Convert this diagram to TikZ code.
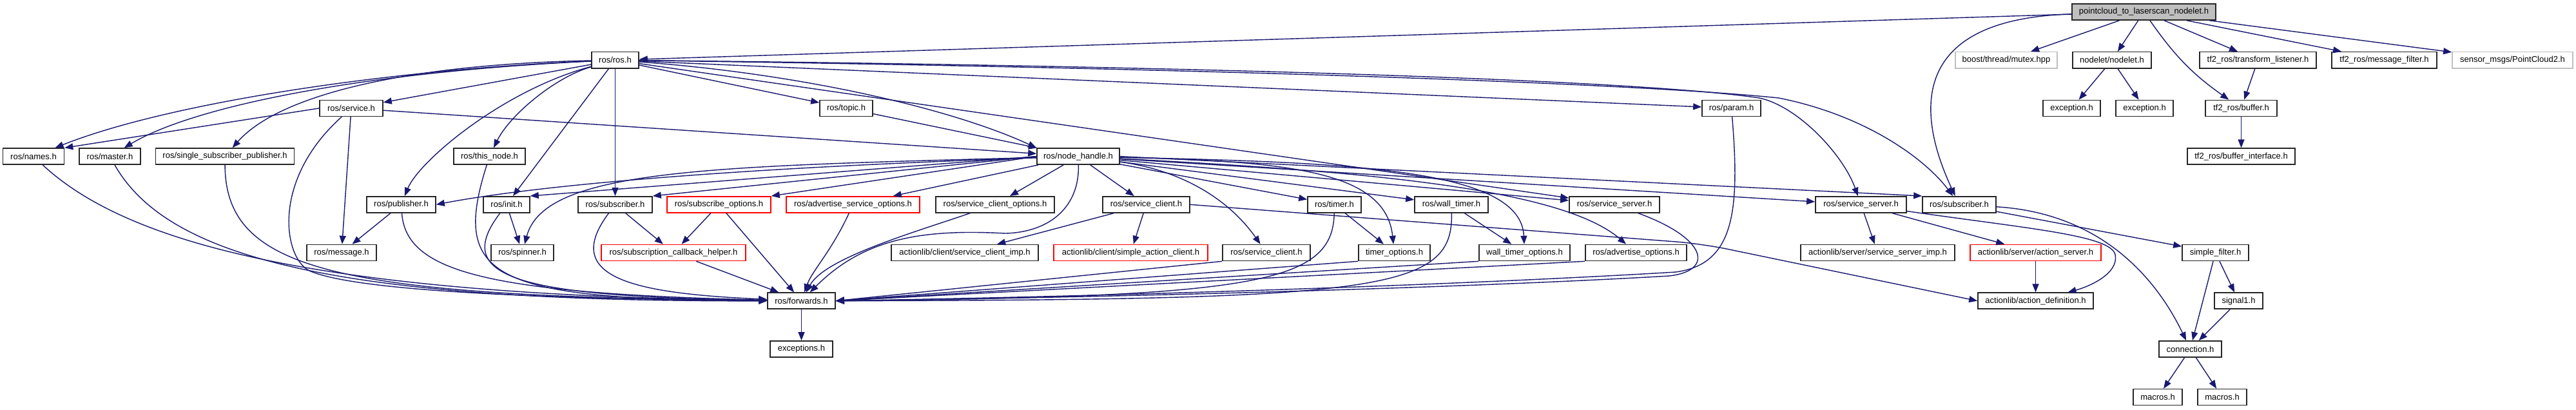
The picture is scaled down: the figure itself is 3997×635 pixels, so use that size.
\documentclass[tikz,border=0pt]{standalone}
\usepackage{fontspec}
\setmainfont{Liberation Sans}
\usetikzlibrary{arrows.meta}
\definecolor{edgeblue}{RGB}{25,25,112}
\definecolor{boxgray}{RGB}{191,191,191}
\begin{document}
\begin{tikzpicture}[x=0.01cm, y=-0.01cm,
  hdr/.style={draw=black!85, fill=white, line width=0.45pt, inner sep=0pt, minimum height=0.25cm, font=\fontsize{3.7}{4.4}\selectfont},
  redhdr/.style={hdr, draw=red},
  syshdr/.style={hdr, draw=boxgray},
  roothdr/.style={hdr, fill=boxgray},
  dep/.style={draw=edgeblue, line width=0.4pt, -{Triangle[length=0.13cm, width=0.1cm]}}]
\path[use as bounding box, fill=white] (0,0) rectangle (3997,635);
\node[roothdr, minimum width=2.23cm] (pc) at (3326.5,18.5) {pointcloud\_to\_laserscan\_nodelet.h};
\node[hdr, minimum width=0.73cm] (rosros) at (954.5,93.2) {ros/ros.h};
\node[syshdr, minimum width=1.58cm] (boost) at (3113,93.2) {boost/thread/mutex.hpp};
\node[hdr, minimum width=1.22cm] (nodelet) at (3277,93.2) {nodelet/nodelet.h};
\node[hdr, minimum width=1.81cm] (tflisten) at (3503.5,93.2) {tf2\_ros/transform\_listener.h};
\node[hdr, minimum width=1.63cm] (tfmsgf) at (3699.5,93.2) {tf2\_ros/message\_filter.h};
\node[syshdr, minimum width=1.87cm] (pctwo) at (3898.5,93.2) {sensor\_msgs/PointCloud2.h};
\node[hdr, minimum width=0.98cm] (service) at (545,167.9) {ros/service.h};
\node[hdr, minimum width=0.82cm] (topic) at (1313,167.9) {ros/topic.h};
\node[hdr, minimum width=0.91cm] (param) at (2686.5,167.9) {ros/param.h};
\node[hdr, minimum width=0.89cm] (exca) at (3214.5,167.9) {exception.h};
\node[hdr, minimum width=0.89cm] (excb) at (3327.5,167.9) {exception.h};
\node[hdr, minimum width=1.11cm] (tfbuf) at (3477.5,167.9) {tf2\_ros/buffer.h};
\node[hdr, minimum width=0.95cm] (names) at (52,242.6) {ros/names.h};
\node[hdr, minimum width=0.95cm] (master) at (170.5,242.6) {ros/master.h};
\node[hdr, minimum width=2.15cm] (singlesub) at (349,242.6) {ros/single\_subscriber\_publisher.h};
\node[hdr, minimum width=1.11cm] (thisnode) at (759.5,242.6) {ros/this\_node.h};
\node[hdr, minimum width=1.28cm] (nodehandle) at (1673,242.6) {ros/node\_handle.h};
\node[hdr, minimum width=1.67cm] (tfbufif) at (3477.5,242.6) {tf2\_ros/buffer\_interface.h};
\node[hdr, minimum width=1.07cm] (publisher) at (622.5,317.3) {ros/publisher.h};
\node[hdr, minimum width=0.72cm] (init) at (786,317.3) {ros/init.h};
\node[hdr, minimum width=1.15cm] (rossub) at (954.5,317.3) {ros/subscriber.h};
\node[redhdr, minimum width=1.61cm] (subopts) at (1115.5,317.3) {ros/subscribe\_options.h};
\node[redhdr, minimum width=2.07cm] (advsrvopts) at (1323.5,317.3) {ros/advertise\_service\_options.h};
\node[hdr, minimum width=1.84cm] (srvcliopts) at (1544,317.3) {ros/service\_client\_options.h};
\node[hdr, minimum width=1.35cm] (srvcli) at (1778.5,317.3) {ros/service\_client.h};
\node[hdr, minimum width=0.83cm] (timer) at (2070.5,317.3) {ros/timer.h};
\node[hdr, minimum width=1.14cm] (walltimer) at (2252,317.3) {ros/wall\_timer.h};
\node[hdr, minimum width=1.40cm] (srvsrv) at (2505,317.3) {ros/service\_server.h};
\node[hdr, minimum width=1.41cm] (srvsrvb) at (2887.5,317.3) {ros/service\_server.h};
\node[hdr, minimum width=1.14cm] (mfsub) at (3040,317.3) {ros/subscriber.h};
\node[hdr, minimum width=1.08cm] (message) at (530,392) {ros/message.h};
\node[hdr, minimum width=0.97cm] (spinner) at (810.5,392) {ros/spinner.h};
\node[redhdr, minimum width=2.24cm] (subcb) at (1045,392) {ros/subscription\_callback\_helper.h};
\node[hdr, minimum width=2.28cm] (cliimp) at (1497,392) {actionlib/client/service\_client\_imp.h};
\node[redhdr, minimum width=2.39cm] (simpleac) at (1754.5,392) {actionlib/client/simple\_action\_client.h};
\node[hdr, minimum width=1.36cm] (srvclib) at (1965,392) {ros/service\_client.h};
\node[hdr, minimum width=1.11cm] (timeropts) at (2163.5,392) {timer\_options.h};
\node[hdr, minimum width=1.41cm] (walltimeropts) at (2365.5,392) {wall\_timer\_options.h};
\node[hdr, minimum width=1.57cm] (advopts) at (2538.5,392) {ros/advertise\_options.h};
\node[hdr, minimum width=2.39cm] (srvimp) at (2913.5,392) {actionlib/server/service\_server\_imp.h};
\node[redhdr, minimum width=2.03cm] (actsrv) at (3158.5,392) {actionlib/server/action\_server.h};
\node[hdr, minimum width=1.03cm] (simplefilter) at (3437.5,392) {simple\_filter.h};
\node[hdr, minimum width=1.05cm] (forwards) at (1243.5,466.7) {ros/forwards.h};
\node[hdr, minimum width=1.79cm] (actdef) at (3158.5,466.7) {actionlib/action\_definition.h};
\node[hdr, minimum width=0.75cm] (signal) at (3473.5,466.7) {signal1.h};
\node[hdr, minimum width=0.97cm] (exceptions) at (1243.5,541.4) {exceptions.h};
\node[hdr, minimum width=0.97cm] (connection) at (3398.5,541.4) {connection.h};
\node[hdr, minimum width=0.76cm] (macrosa) at (3348,616.1) {macros.h};
\node[hdr, minimum width=0.76cm] (macrosb) at (3448,616.1) {macros.h};
\foreach \a/\b in {pc/rosros, pc/boost, pc/nodelet, pc/tflisten, pc/tfmsgf, pc/pctwo, nodelet/exca, nodelet/excb, tflisten/tfbuf, tfbuf/tfbufif,
  rosros/service, rosros/init, rosros/rossub, rosros/topic, rosros/param, rosros/srvsrv, topic/nodehandle, service/nodehandle, service/message,
  service.west/names.north east, publisher/message, init/spinner, rossub/subcb, subopts/subcb, subopts/forwards, subcb/forwards,
  nodehandle.west/init.north east, nodehandle.west/rossub.north east, nodehandle.west/subopts.north east, nodehandle/advsrvopts, nodehandle/srvcliopts,
  nodehandle/srvcli, nodehandle/timer, nodehandle/walltimer, nodehandle/srvsrv, nodehandle/srvsrvb, nodehandle.east/mfsub.north west,
  srvcli/cliimp, srvcli/simpleac, timer/timeropts, walltimer/walltimeropts, srvsrvb/srvimp, srvsrvb/actsrv, actsrv/actdef, mfsub/simplefilter,
  simplefilter/signal, simplefilter/connection, signal/connection, connection/macrosa, connection/macrosb, forwards/exceptions,
  srvclib.south west/forwards.east, timeropts.south west/forwards.east, walltimeropts.south west/forwards.east, advopts.south west/forwards.east}
  \draw[dep] (\a) -- (\b);
\draw[dep] (pc) to[bend right=10] (tfbuf);
\draw[dep] (pc) .. controls (2940,30) and (2985,200) .. (mfsub);
\draw[dep] (rosros) .. controls (600,108) and (260,160) .. (names);
\draw[dep] (rosros) .. controls (560,112) and (300,165) .. (master);
\draw[dep] (rosros) .. controls (620,100) and (430,150) .. (singlesub);
\draw[dep] (rosros) .. controls (780,140) and (650,250) .. (publisher);
\draw[dep] (rosros) .. controls (860,120) and (790,180) .. (thisnode);
\draw[dep] (rosros) .. controls (1250,115) and (1480,170) .. (nodehandle.north west);
\draw[dep] (rosros) .. controls (1900,103) and (2550,125) .. (2730,152) .. controls (2790,165) and (2860,240) .. (srvsrvb);
\draw[dep] (rosros) .. controls (1900,106) and (2550,130) .. (2760,152) .. controls (2900,180) and (2990,250) .. (mfsub);
\draw[dep] (names) .. controls (200,380) and (500,458) .. (forwards);
\draw[dep] (master) .. controls (260,400) and (520,468) .. (forwards);
\draw[dep] (singlesub) .. controls (350,420) and (520,460) .. (forwards);
\draw[dep] (service) .. controls (420,280) and (440,400) .. (480,420) .. controls (560,455) and (900,464) .. (forwards);
\draw[dep] (publisher) .. controls (630,420) and (750,455) .. (forwards);
\draw[dep] (thisnode) .. controls (700,430) and (760,465) .. (forwards);
\draw[dep] (init) .. controls (700,430) and (800,460) .. (forwards);
\draw[dep] (rossub) .. controls (870,430) and (980,455) .. (forwards);
\draw[dep] (advsrvopts) .. controls (1290,390) and (1260,420) .. (forwards);
\draw[dep] (srvcliopts) .. controls (1420,360) and (1280,400) .. (forwards);
\draw[dep] (nodehandle) .. controls (1675,320) and (1630,360) .. (1560,362) .. controls (1430,355) and (1340,370) .. (forwards);
\draw[dep] (timer) .. controls (2068,440) and (1950,460) .. (forwards.east);
\draw[dep] (walltimer) .. controls (2255,450) and (2150,465) .. (forwards.east);
\draw[dep] (srvsrv) .. controls (2650,370) and (2660,420) .. (2590,428) .. controls (2300,445) and (1800,460) .. (forwards.east);
\draw[dep] (param) .. controls (2700,330) and (2690,410) .. (2600,422) .. controls (2300,440) and (1800,458) .. (forwards.east);
\draw[dep] (nodehandle) .. controls (1100,262) and (820,290) .. (publisher.east);
\draw[dep] (nodehandle) .. controls (1100,258) and (845,262) .. (spinner);
\draw[dep] (nodehandle) .. controls (2000,250) and (2150,265) .. (timeropts);
\draw[dep] (nodehandle) .. controls (2100,252) and (2360,262) .. (walltimeropts);
\draw[dep] (nodehandle) .. controls (2100,265) and (2420,290) .. (advopts);
\draw[dep] (nodehandle) .. controls (1820,262) and (1900,300) .. (srvclib);
\draw[dep, rounded corners=0.4cm] (srvcli.east) -- (2640,378) -- (actdef.west);
\draw[dep] (srvsrvb) .. controls (3150,355) and (3275,365) .. (3282,395) .. controls (3288,425) and (3240,445) .. (actdef);
\draw[dep] (mfsub) .. controls (3250,330) and (3340,420) .. (connection);
\end{tikzpicture}
\end{document}
